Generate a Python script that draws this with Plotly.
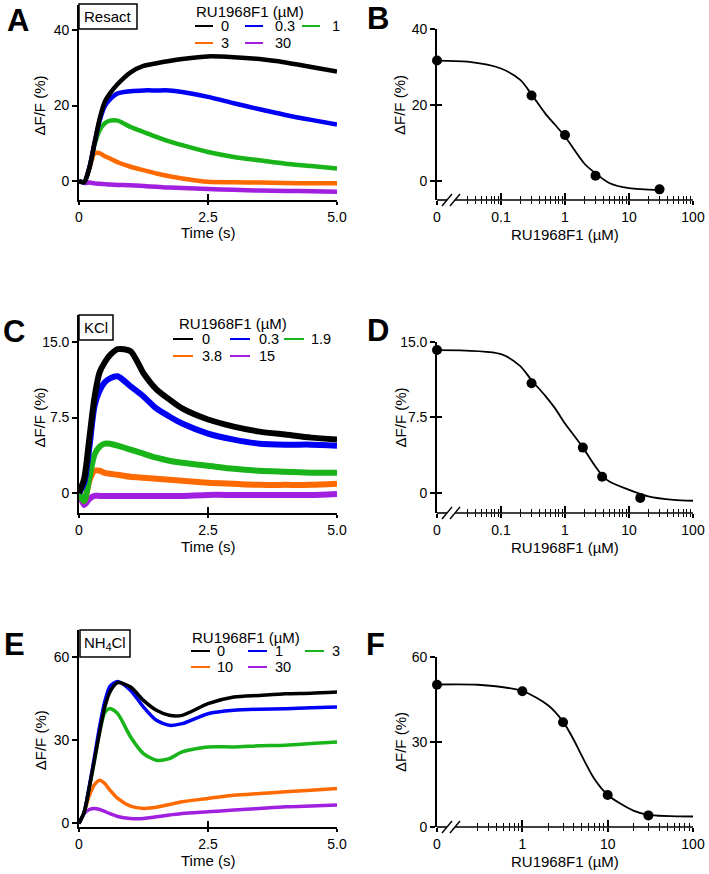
import plotly.graph_objects as go

W, H = 709, 874
FONT = "Arial, Liberation Sans, sans-serif"
INK = 'black'

COLORS = {
	'BLACK': '#000000',
	'BLUE': '#0000F5',
	'GREEN': '#19B419',
	'ORANGE': '#FF6A00',
	'PURPLE': '#A11FDF',
}
TRACE_COLORS = [COLORS['BLACK'], COLORS['BLUE'], COLORS['GREEN'], COLORS['ORANGE'], COLORS['PURPLE']]

#########################
# time courses (s, dF/F %)
#########################
TIME = [0, 0.1, 0.2, 0.3, 0.4, 0.5, 0.6, 0.75, 1.0, 1.25, 1.5, 1.75, 2.0, 2.5, 3.0, 3.5, 4.0, 4.5, 5.0]
TIME_TICKS = [0, 2.5, 5.0]
TIME_TICKTEXT = ['0', '2.5', '5.0']

RESACT_LABELS = ['0', '0.3', '1', '3', '30']
RESACT_0 = [0, -0.3, 3.5, 10.0, 16.5, 21.0, 23.2, 25.7, 28.8, 30.5, 31.2, 31.8, 32.3, 33.0, 32.8, 32.3, 31.4, 30.2, 29.0]
RESACT_0_3 = [0, -0.3, 3.5, 10.0, 16.0, 19.8, 21.6, 23.2, 23.8, 24.0, 24.0, 24.0, 23.6, 22.3, 20.6, 19.0, 17.5, 16.2, 15.0]
RESACT_1 = [0, -0.3, 3.4, 9.6, 13.5, 15.3, 16.0, 16.0, 14.3, 13.0, 11.7, 10.5, 9.5, 7.7, 6.4, 5.5, 4.6, 4.0, 3.3]
RESACT_3 = [0, -0.3, 3.2, 7.3, 7.4, 6.6, 6.0, 5.0, 3.8, 2.9, 2.0, 1.3, 0.7, -0.2, -0.3, -0.4, -0.5, -0.6, -0.6]
RESACT_30 = [0, -0.5, -0.4, -0.6, -0.7, -0.8, -0.9, -1.0, -1.1, -1.3, -1.5, -1.7, -1.8, -2.1, -2.3, -2.5, -2.6, -2.7, -2.8]

KCL_LABELS = ['0', '0.3', '1.9', '3.8', '15']
KCL_0 = [0, 1.4, 5.4, 9.5, 12.0, 13.0, 13.7, 14.3, 14.1, 11.9, 10.3, 9.3, 8.4, 7.3, 6.6, 6.1, 5.8, 5.5, 5.3]
KCL_0_3 = [0, 1.0, 4.5, 8.6, 10.2, 11.0, 11.4, 11.6, 10.6, 9.6, 8.4, 7.6, 6.9, 5.9, 5.3, 4.9, 4.8, 4.8, 4.7]
KCL_1_9 = [0, -0.8, 1.5, 3.8, 4.6, 4.9, 4.9, 4.7, 4.3, 3.9, 3.5, 3.2, 3.0, 2.7, 2.4, 2.2, 2.1, 2.0, 2.0]
KCL_3_8 = [0, -0.8, 1.2, 2.2, 2.2, 2.0, 1.9, 1.8, 1.6, 1.5, 1.4, 1.3, 1.2, 1.0, 0.9, 0.8, 0.8, 0.8, 0.9]
KCL_15 = [0, -1.2, -0.6, -0.3, -0.3, -0.3, -0.3, -0.3, -0.3, -0.3, -0.3, -0.3, -0.3, -0.2, -0.2, -0.2, -0.2, -0.2, -0.1]

NH4CL_LABELS = ['0', '1', '3', '10', '30']
NH4CL_0 = [0, 4.0, 13.0, 23.0, 33.0, 42.0, 47.5, 50.8, 49.2, 44.4, 40.8, 39.0, 39.0, 43.2, 45.6, 46.2, 46.8, 47.0, 47.4]
NH4CL_1 = [0, 4.0, 13.5, 24.0, 35.0, 44.0, 49.5, 51.2, 48.0, 42.0, 37.2, 35.4, 36.0, 39.6, 40.8, 41.2, 41.4, 41.7, 42.0]
NH4CL_3 = [0, 4.0, 13.0, 22.5, 33.0, 40.0, 41.5, 39.6, 31.2, 25.2, 22.8, 23.4, 25.8, 27.6, 27.6, 28.0, 28.2, 28.8, 29.4]
NH4CL_10 = [0, 4.0, 10.0, 14.0, 15.6, 14.4, 12.0, 9.0, 6.2, 5.4, 5.8, 6.8, 7.8, 9.0, 10.2, 10.8, 11.4, 12.0, 12.6]
NH4CL_30 = [0, 3.5, 5.0, 5.4, 5.0, 4.3, 3.5, 2.5, 1.8, 1.8, 2.4, 3.0, 3.6, 4.2, 4.8, 5.4, 6.0, 6.3, 6.6]

#########################
# dose response (uM, dF/F %)
#########################
RESACT_CONC = [0, 0.3, 1, 3, 30]
RESACT_RESP = [31.7, 22.5, 12.1, 1.4, -2.2]
RESACT_FIT_X = [0.01, 0.03, 0.1, 0.2, 0.3, 0.5, 0.7, 1, 2, 3, 5, 10, 30]
RESACT_FIT_Y = [31.7, 31.4, 29.6, 26.6, 22.8, 17.6, 14.8, 11.7, 4.6, 2.0, -0.6, -1.9, -2.4]

KCL_CONC = [0, 0.3, 1.9, 3.8, 15]
KCL_RESP = [14.2, 10.9, 4.5, 1.6, -0.5]
KCL_FIT_X = [0.01, 0.1, 0.2, 0.3, 0.5, 0.7, 1, 1.5, 2, 3, 4, 5, 10, 20, 50, 100]
KCL_FIT_Y = [14.2, 13.8, 12.6, 11.2, 9.6, 8.4, 6.9, 5.4, 4.3, 2.6, 1.6, 1.1, 0.3, -0.35, -0.7, -0.78]

NH4CL_CONC = [0, 1, 3, 10, 30]
NH4CL_RESP = [50.2, 47.9, 37.0, 11.3, 4.1]
NH4CL_FIT_X = [0.1, 0.3, 1, 2, 3, 4, 5, 7, 10, 20, 30, 100]
NH4CL_FIT_Y = [50.3, 50.2, 48.0, 43.0, 37.2, 30.8, 25.0, 16.9, 11.3, 5.8, 4.3, 3.7]

CONC_TICKS_2 = [0.01, 0.1, 1, 10, 100]
CONC_TICKTEXT_2 = ['0', '0.1', '1', '10', '100']
CONC_MINOR_2 = [0.03, 0.04, 0.05, 0.06, 0.07, 0.08, 0.09,
                0.2, 0.3, 0.4, 0.5, 0.6, 0.7, 0.8, 0.9,
                2, 3, 4, 5, 6, 7, 8, 9,
                20, 30, 40, 50, 60, 70, 80, 90]
CONC_TICKS_3 = [0.1, 1, 10, 100]
CONC_TICKTEXT_3 = ['0', '1', '10', '100']
CONC_MINOR_3 = [0.3, 0.4, 0.5, 0.6, 0.7, 0.8, 0.9,
                2, 3, 4, 5, 6, 7, 8, 9,
                20, 30, 40, 50, 60, 70, 80, 90]

# plot area, in page pixels
LEFT_X = (79, 337)
RIGHT_X = (437, 693)
PANEL_Y = {1: (5, 200), 2: (29, 200), 3: (315, 513), 4: (342, 513), 5: (630, 827), 6: (657, 827)}


def px(x):
	return x / W


def py(y):
	return 1 - y / H


def ref(kind, n):
	return kind + ('' if n == 1 else str(n))


def ax_key(kind, n):
	return kind + 'axis' + ('' if n == 1 else str(n))


def axis_base():
	return dict(showgrid=False, zeroline=False, fixedrange=True, automargin=False,
	            linecolor=INK, linewidth=1.6, tickcolor=INK, tickwidth=1.5,
	            tickfont=dict(family=FONT, size=14, color=INK))


fig = go.Figure()
axes = {}
shapes = []
annotations = []


def text(s, x, y, size=15, xanchor='center', yanchor='middle', **kw):
	d = dict(text=s, x=x, y=y, xref='paper', yref='paper', showarrow=False,
	         xanchor=xanchor, yanchor=yanchor, font=dict(family=FONT, size=size, color=INK))
	d.update(kw)
	annotations.append(d)


def time_panel(n, series, labels, y_range, y_ticks, y_ticktext, band, legend, box, box_text):
	top, bottom = PANEL_Y[n]
	axes[ax_key('x', n)] = dict(axis_base(), domain=[px(LEFT_X[0]), px(LEFT_X[1])], anchor=ref('y', n),
		range=[0, 5], showline=True, ticks='outside', ticklen=3,
		tickvals=TIME_TICKS, ticktext=TIME_TICKTEXT)
	axes[ax_key('y', n)] = dict(axis_base(), domain=[py(bottom), py(top)], anchor=ref('x', n),
		range=y_range, showline=True, ticks='outside', ticklen=5,
		tickvals=y_ticks, ticktext=y_ticktext)
	# inside half of the crossing ticks
	ov = n + 6
	axes[ax_key('x', ov)] = dict(axis_base(), overlaying=ref('x', n), anchor=ref('y', n), range=[0, 5],
		showline=False, ticks='inside', ticklen=6, tickvals=TIME_TICKS, showticklabels=False)
	fig.add_trace(go.Scatter(x=[], y=[], xaxis=ref('x', ov), yaxis=ref('y', n), showlegend=False, hoverinfo='skip'))

	for values, color in reversed(list(zip(series, TRACE_COLORS))):
		fig.add_trace(go.Scatter(
			x=TIME, y=values, mode='lines',
			line=dict(color=color, width=band, shape='spline', smoothing=0.7),
			xaxis=ref('x', n), yaxis=ref('y', n), showlegend=False, hoverinfo='skip'))

	# legend
	cx, ty, rows, cols, length, label_x = legend
	text('RU1968F1 (µM)', px(cx), py(ty))
	for i, (lab, color) in enumerate(zip(labels, TRACE_COLORS)):
		r, c = divmod(i, 3)
		shapes.append(dict(type='line', xref='paper', yref='paper',
			x0=px(cols[c]), x1=px(cols[c] + length), y0=py(rows[r]), y1=py(rows[r]),
			line=dict(color=color, width=2)))
		text(lab, px(label_x[c]), py(rows[r]), size=14.5, xanchor='left')

	# stimulus box
	bx0, bx1, by0, by1 = box
	shapes.append(dict(type='rect', xref='paper', yref='paper',
		x0=px(bx0), x1=px(bx1), y0=py(by1), y1=py(by0),
		line=dict(color=INK, width=1.5), fillcolor='white'))
	text(box_text, px((bx0 + bx1) / 2), py((by0 + by1) / 2))

	text('Time (s)', px(sum(LEFT_X) / 2), py(bottom + 33))
	annotations.append(dict(text='ΔF/F (%)', x=px(40), y=y_ticks[1], xref='paper', yref=ref('y', n),
		showarrow=False, textangle=-90, xanchor='center', yanchor='middle',
		font=dict(family=FONT, size=15, color=INK)))


def dose_panel(n, conc, resp, fit_x, fit_y, x_range, x_ticks, x_ticktext, minor, y_range, y_ticks, y_ticktext):
	top, bottom = PANEL_Y[n]
	axes[ax_key('x', n)] = dict(axis_base(), domain=[px(RIGHT_X[0]), px(RIGHT_X[1])], anchor=ref('y', n),
		type='log', range=x_range, showline=False, ticks='outside', ticklen=4,
		tickvals=x_ticks, ticktext=x_ticktext,
		minor=dict(tickmode='array', tickvals=minor, ticks='outside', ticklen=3, tickcolor=INK, tickwidth=1.3))
	axes[ax_key('y', n)] = dict(axis_base(), domain=[py(bottom), py(top)], anchor=ref('x', n),
		range=y_range, showline=True, ticks='outside', ticklen=5,
		tickvals=y_ticks, ticktext=y_ticktext)
	ov = n + 6
	axes[ax_key('x', ov)] = dict(axis_base(), overlaying=ref('x', n), anchor=ref('y', n),
		type='log', range=x_range, showline=False, ticks='inside', ticklen=7,
		tickvals=x_ticks, showticklabels=False,
		minor=dict(tickmode='array', tickvals=minor, ticks='inside', ticklen=4, tickcolor=INK, tickwidth=1.3))
	axes[ax_key('y', ov)] = dict(axis_base(), overlaying=ref('y', n), anchor=ref('x', n),
		range=y_range, showline=False, ticks='inside', ticklen=5, tickvals=y_ticks, showticklabels=False)
	fig.add_trace(go.Scatter(x=[], y=[], xaxis=ref('x', ov), yaxis=ref('y', n), showlegend=False, hoverinfo='skip'))
	fig.add_trace(go.Scatter(x=[], y=[], xaxis=ref('x', n), yaxis=ref('y', ov), showlegend=False, hoverinfo='skip'))

	fig.add_trace(go.Scatter(
		x=fit_x, y=fit_y, mode='lines', line=dict(color=INK, width=1.8, shape='spline', smoothing=0.8),
		xaxis=ref('x', n), yaxis=ref('y', n), showlegend=False, hoverinfo='skip', cliponaxis=False))
	x_zero = 10 ** x_range[0]
	fig.add_trace(go.Scatter(
		x=[c if c > 0 else x_zero for c in conc], y=resp, mode='markers',
		marker=dict(color=INK, size=10), cliponaxis=False,
		xaxis=ref('x', n), yaxis=ref('y', n), showlegend=False, hoverinfo='skip'))

	# x axis line with the // break after "0"
	for x0, x1 in [(RIGHT_X[0], 447), (455, RIGHT_X[1])]:
		shapes.append(dict(type='line', xref='paper', yref='paper', x0=px(x0), x1=px(x1),
			y0=py(bottom), y1=py(bottom), line=dict(color=INK, width=1.6)))
	for sx in (442, 450):
		shapes.append(dict(type='line', xref='paper', yref='paper', x0=px(sx), x1=px(sx + 10),
			y0=py(bottom + 6), y1=py(bottom - 6), line=dict(color=INK, width=1.4)))

	text('RU1968F1 (µM)', px(sum(RIGHT_X) / 2), py(bottom + 34))
	annotations.append(dict(text='ΔF/F (%)', x=px(400), y=y_ticks[1], xref='paper', yref=ref('y', n),
		showarrow=False, textangle=-90, xanchor='center', yanchor='middle',
		font=dict(family=FONT, size=15, color=INK)))


time_panel(1, [RESACT_0, RESACT_0_3, RESACT_1, RESACT_3, RESACT_30], RESACT_LABELS,
	[-5, 46.6], [0, 20, 40], ['0', '20', '40'], 4.5,
	(250, 12, [26, 43], [195, 245, 302], 18, [219, 273, 330]),
	(79, 137, 4, 29), 'Resact')
time_panel(3, [KCL_0, KCL_0_3, KCL_1_9, KCL_3_8, KCL_15], KCL_LABELS,
	[-2, 17.7], [0, 7.5, 15], ['0', '7.5', '15.0'], 6,
	(233, 323, [339, 356], [173, 230, 284], 20, [200, 257, 309]),
	(79, 113, 315, 340), 'KCl')
time_panel(5, [NH4CL_0, NH4CL_1, NH4CL_3, NH4CL_10, NH4CL_30], NH4CL_LABELS,
	[-1.3, 69.8], [0, 30, 60], ['0', '30', '60'], 3.5,
	(246, 637, [651, 667], [191, 248, 305], 19, [215, 273, 330]),
	(80, 130, 630, 657), 'NH<sub>4</sub>Cl')

dose_panel(2, RESACT_CONC, RESACT_RESP, RESACT_FIT_X, RESACT_FIT_Y, [-2, 2],
	CONC_TICKS_2, CONC_TICKTEXT_2, CONC_MINOR_2, [-5, 40], [0, 20, 40], ['0', '20', '40'])
dose_panel(4, KCL_CONC, KCL_RESP, KCL_FIT_X, KCL_FIT_Y, [-2, 2],
	CONC_TICKS_2, CONC_TICKTEXT_2, CONC_MINOR_2, [-2, 15], [0, 7.5, 15], ['0', '7.5', '15.0'])
dose_panel(6, NH4CL_CONC, NH4CL_RESP, NH4CL_FIT_X, NH4CL_FIT_Y, [-1, 2],
	CONC_TICKS_3, CONC_TICKTEXT_3, CONC_MINOR_3, [0, 60], [0, 30, 60], ['0', '30', '60'])

# panel letters
for letter, (lx, ly) in zip('ABCDEF', [(18, 21), (378, 18), (14, 331), (378, 330), (15, 644), (376, 644)]):
	text('<b>' + letter + '</b>', px(lx), py(ly), size=31)

fig.update_layout(
	template='none',
	width=W, height=H,
	margin=dict(l=0, r=0, t=0, b=0),
	paper_bgcolor='white', plot_bgcolor='white',
	showlegend=False, hovermode=False,
	shapes=shapes, annotations=annotations,
	**axes
)

# drop the page's default body margin so the figure fills the window exactly
fig.write_html("out.html", config={'displayModeBar': False},
               post_script="document.body.style.margin = '0';")
